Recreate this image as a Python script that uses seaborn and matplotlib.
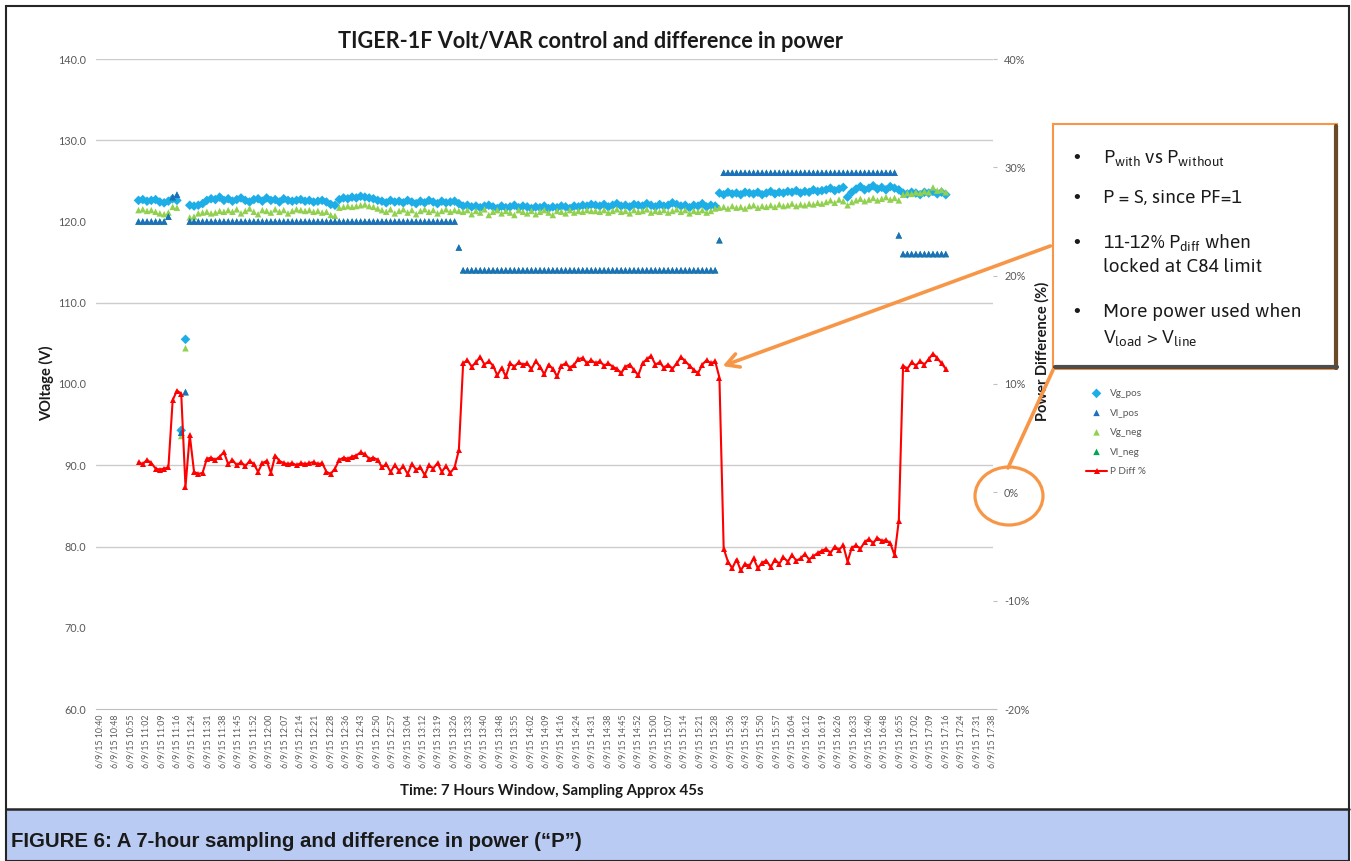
import numpy as np
import pandas as pd
import matplotlib
matplotlib.use("Agg")
import matplotlib.pyplot as plt
import seaborn as sns
from matplotlib import font_manager
from matplotlib.patches import Rectangle, Ellipse, FancyArrowPatch
from matplotlib.lines import Line2D

# ---------------------------------------------------------------
# DATA (one sample every ~2 min from 10:58)
# ---------------------------------------------------------------
t_start = 18      # minutes after the first axis label (10:40)
t_step = 2

p_diff = [
    2.8, 2.6, 3.0, 2.7, 2.2, 2.1, 2.2, 2.3, 8.5, 9.4, 9.1, 0.5, 5.3, 1.9, 1.7, 1.8,
    3.1, 3.2, 3.0, 3.3, 3.7,
    2.6, 3.0, 2.5, 2.8, 2.4, 2.9, 2.6, 1.9, 2.7, 2.9, 1.8, 3.4,
    2.9, 2.7, 2.6, 2.7, 2.5, 2.7, 2.6, 2.7, 2.8, 2.6, 2.7,
    1.9, 1.7, 2.2, 3.0, 3.2, 3.1, 3.3, 3.4, 3.7, 3.5, 3.1, 3.2, 3.0,
    2.3, 2.6, 1.9, 2.5, 2.0, 2.4, 1.7, 2.6, 2.1, 2.3, 1.6, 2.5, 2.2, 2.7, 1.9, 2.4, 1.8, 2.3, 3.9,
    11.9, 12.2, 11.6, 12.0, 12.5, 11.8, 12.1, 11.7, 10.8, 11.5, 10.7, 11.9, 11.6, 12.0, 11.8,
    11.9, 11.4, 12.1, 11.6, 10.9, 11.8, 11.4, 10.7, 11.7, 11.9, 11.5, 11.8, 12.3, 12.4, 11.9,
    12.2, 11.9, 12.1, 11.7, 11.9, 11.6, 11.4, 11.0, 11.6, 11.8, 11.3, 10.8, 11.9, 12.3, 12.6,
    11.8, 12.0, 11.5, 11.8, 11.4, 11.9, 12.5, 12.1, 11.7, 11.3, 11.0, 11.8, 12.2, 11.9, 12.1,
    10.6, -5.2, -6.4, -7.0, -6.2, -7.2, -6.6, -6.8, -6.1, -7.0, -6.5, -6.3, -6.9, -6.2, -6.6,
    -6.0, -6.4, -5.8, -6.3, -6.1, -5.7, -6.2, -5.9, -5.6,
    -5.4, -5.2, -5.6, -5.0, -5.3, -4.9, -6.4, -5.1, -4.9, -5.2, -4.6, -4.3, -4.7, -4.2, -4.5,
    -4.4, -4.7,
    -5.8, -2.6, 11.7, 11.4, 12.0, 11.7, 12.1, 11.8, 12.3, 12.8, 12.4, 11.9, 11.4,
]

vg_pos = [
    122.6, 122.7, 122.5, 122.6, 122.7, 122.4, 122.3, 122.5, 122.8, 122.6, 94.3, 105.5,
    122.0, 121.9, 122.0, 122.2,
    122.6, 122.8, 122.7, 123.0, 122.6, 122.8, 122.5, 122.7, 122.9, 122.6, 122.4, 122.7,
    122.8, 122.5, 122.9, 122.6, 122.7, 122.4, 122.8, 122.6, 122.5, 122.6, 122.7, 122.5,
    122.6, 122.4, 122.5, 122.6, 122.4,
    122.1, 122.0, 122.7, 122.9, 122.8, 123.0, 122.9, 123.1, 123.0, 122.9, 122.8, 122.6,
    122.5, 122.3, 122.6, 122.4, 122.5, 122.3, 122.6, 122.4, 122.2, 122.5, 122.3, 122.6,
    122.4, 122.2, 122.5, 122.3, 122.4, 122.5, 122.2,
    121.9, 122.0, 121.8, 121.9, 121.7, 121.9, 122.0, 121.8, 121.6, 121.9, 121.7, 121.8,
    122.0, 121.7, 121.9, 121.8, 121.6, 121.8, 121.7, 121.9, 121.6, 121.8, 121.7, 121.9,
    121.8, 121.6, 121.9, 121.8, 122.0, 121.9, 122.1,
    122.0, 121.9, 122.1, 121.8, 122.0, 122.2, 121.9, 122.0, 121.8, 122.1, 122.0, 121.9,
    122.2, 122.0, 121.8, 122.1, 121.9, 122.0, 122.3, 122.1, 121.9, 122.0, 121.7, 122.0,
    121.9, 122.2, 121.8, 122.0, 121.9,
    123.5, 123.3, 123.6, 123.4, 123.5, 123.3, 123.6, 123.5, 123.4, 123.6, 123.3, 123.5,
    123.7, 123.4, 123.6, 123.5, 123.7, 123.6, 123.8, 123.5, 123.7, 123.6, 123.9, 123.7,
    123.8,
    123.9, 124.1, 123.8, 124.0, 124.2, 123.0, 123.6, 124.0, 124.3, 123.9, 124.1, 124.4,
    124.0, 124.2, 123.9, 124.3, 124.1, 123.9,
    123.5, 123.4, 123.6, 123.5, 123.3, 123.6, 123.5, 123.7, 123.4, 123.6, 123.3,
]

vg_neg = [
    121.4, 121.5, 121.3, 121.4, 121.2, 121.0, 120.9, 121.1, 121.8, 121.7, 93.6, 104.4,
    120.5, 120.6, 121.0, 121.1,
    121.2, 121.0, 121.1, 121.3, 121.2,
    121.4, 121.2, 121.5, 121.0, 121.3, 121.6, 121.2, 120.9, 121.4, 121.3, 121.1, 121.5,
    121.2, 121.4, 121.0, 121.3, 121.5, 121.4, 121.3, 121.4, 121.2, 121.3, 121.1, 121.2,
    120.8, 120.7, 121.7, 121.8, 121.9, 121.8, 121.9, 122.0, 122.1, 121.9, 121.8, 121.6,
    121.4, 121.2, 121.5, 121.0, 121.3, 121.5, 121.1, 121.4, 120.9, 121.3, 121.5, 121.2,
    121.4, 121.0, 121.3, 121.5, 121.2, 121.4, 121.3,
    121.2, 121.4, 120.9, 121.3, 121.1, 121.5, 120.8, 121.2, 121.4, 121.0, 121.3, 121.1,
    120.8, 121.4, 121.2, 121.0, 121.3, 120.9, 121.2, 121.4, 121.1, 120.8, 121.3, 121.2,
    121.0, 121.4, 121.1, 121.3, 121.2, 121.4, 121.3,
    121.3, 121.2, 121.4, 121.1, 121.3, 121.5, 121.2, 121.3, 121.0, 121.4, 121.2, 121.3,
    121.5, 121.1, 121.3, 121.2, 121.4, 121.1, 121.3, 121.5, 121.2, 121.4, 121.0, 121.3,
    121.2, 121.4, 121.1, 121.3, 121.6,
    121.7, 121.8, 121.6, 121.9, 121.7, 121.8, 121.6, 121.9, 122.0, 121.7, 121.9, 121.8,
    122.0, 121.8, 122.1, 121.9, 122.0, 122.2, 121.9, 122.1, 122.0, 122.2, 122.1, 122.3,
    122.2,
    122.4, 122.6, 122.3, 122.7, 122.5, 122.0, 122.4, 122.6, 122.8, 122.5, 122.7, 122.9,
    122.6, 122.8, 123.0, 122.7, 122.9, 122.6,
    123.3, 123.5, 123.4, 123.6, 123.5, 123.7, 123.6, 124.2, 123.8, 123.9, 123.6,
]

# line-side voltage: regulator taps, so long flat stretches
vl_pos = [
    120.0, 120.0, 120.0, 120.0, 120.0, 120.0, 120.0, 120.6, 123.0, 123.3, 94.0, 99.0,
    120.0, 120.0, 120.0, 120.0, 120.0, 120.0, 120.0, 120.0, 120.0,
    120.0, 120.0, 120.0, 120.0, 120.0, 120.0, 120.0, 120.0, 120.0,
    120.0, 120.0, 120.0, 120.0, 120.0, 120.0, 120.0, 120.0, 120.0,
    120.0, 120.0, 120.0, 120.0, 120.0, 120.0, 120.0, 120.0, 120.0,
    120.0, 120.0, 120.0, 120.0, 120.0, 120.0, 120.0, 120.0, 120.0,
    120.0, 120.0, 120.0, 120.0, 120.0, 120.0, 120.0, 120.0, 120.0,
    120.0, 120.0, 120.0, 120.0, 120.0, 120.0, 120.0, 120.0, 120.0,
    116.8,
    114.0, 114.0, 114.0, 114.0, 114.0, 114.0, 114.0, 114.0, 114.0, 114.0,
    114.0, 114.0, 114.0, 114.0, 114.0, 114.0, 114.0, 114.0, 114.0, 114.0,
    114.0, 114.0, 114.0, 114.0, 114.0, 114.0, 114.0, 114.0, 114.0, 114.0,
    114.0, 114.0, 114.0, 114.0, 114.0, 114.0, 114.0, 114.0, 114.0, 114.0,
    114.0, 114.0, 114.0, 114.0, 114.0, 114.0, 114.0, 114.0, 114.0, 114.0,
    114.0, 114.0, 114.0, 114.0, 114.0, 114.0, 114.0, 114.0, 114.0, 114.0,
    117.7,
    126.0, 126.0, 126.0, 126.0, 126.0, 126.0, 126.0, 126.0, 126.0, 126.0,
    126.0, 126.0, 126.0, 126.0, 126.0, 126.0, 126.0, 126.0, 126.0, 126.0,
    126.0, 126.0, 126.0, 126.0, 126.0, 126.0, 126.0, 126.0, 126.0, 126.0,
    126.0, 126.0, 126.0, 126.0, 126.0, 126.0, 126.0, 126.0, 126.0, 126.0,
    126.0,
    118.3,
    116.0, 116.0, 116.0, 116.0, 116.0, 116.0, 116.0, 116.0, 116.0, 116.0, 116.0,
]
vl_neg = list(vl_pos)   # sits right under Vl_pos in the picture

tick_times = [
    "10:40", "10:48", "10:55", "11:02", "11:09", "11:16", "11:24", "11:31", "11:38",
    "11:45", "11:52", "12:00", "12:07", "12:14", "12:21", "12:28", "12:36", "12:43",
    "12:50", "12:57", "13:04", "13:12", "13:19", "13:26", "13:33", "13:40", "13:48",
    "13:55", "14:02", "14:09", "14:16", "14:24", "14:31", "14:38", "14:45", "14:52",
    "15:00", "15:07", "15:14", "15:21", "15:28", "15:36", "15:43", "15:50", "15:57",
    "16:04", "16:12", "16:19", "16:26", "16:33", "16:40", "16:48", "16:55", "17:02",
    "17:09", "17:16", "17:24", "17:31", "17:38",
]
tick_step = 7.2          # minutes between category labels
volt_ticks = [60, 70, 80, 90, 100, 110, 120, 130, 140]
pct_ticks = [-20, -10, 0, 10, 20, 30, 40]
grid_levels = [140, 130, 110, 90, 80]   # the ones still visible in the screenshot

n = len(p_diff)
assert len(vg_pos) == n and len(vg_neg) == n and len(vl_pos) == n, (len(vg_pos), len(vg_neg), len(vl_pos), n)

df = pd.DataFrame({
    "minute": t_start + t_step * np.arange(n),
    "Vg_pos": vg_pos, "Vl_pos": vl_pos, "Vg_neg": vg_neg, "Vl_neg": vl_neg,
    "P Diff %": p_diff,
})

# ---------------------------------------------------------------
# STYLE
# ---------------------------------------------------------------
sns.set_style("white")
installed = {f.name for f in font_manager.fontManager.ttflist}
if "Asap" in installed:
    BOX_FONT, BOX_SIZE = "Asap", 13.8
else:
    BOX_FONT, BOX_SIZE = "Liberation Sans", 13.4
plt.rcParams["font.family"] = ["Lato", "DejaVu Sans"]
plt.rcParams["mathtext.fontset"] = "custom"
plt.rcParams["mathtext.rm"] = BOX_FONT
plt.rcParams["mathtext.it"] = BOX_FONT

W, H = 1351, 861
def fx(px):
    return px / W
def fy(py):
    return 1 - py / H

GRAY = "#595959"
ORANGE = "#f79646"

fig = plt.figure(figsize=(W / 100, H / 100), dpi=100)
ax = fig.add_axes([fx(96), fy(709), fx(993) - fx(96), fy(59) - fy(709)])
ax2 = ax.twinx()

# ---------------------------------------------------------------
# MARKS
# ---------------------------------------------------------------
sns.scatterplot(data=df, x="minute", y="Vg_pos", ax=ax, marker="D", s=24,
                color="#1daee8", edgecolor="none", label="Vg_pos", zorder=3)
sns.scatterplot(data=df, x="minute", y="Vg_neg", ax=ax, marker="^", s=22,
                color="#92d050", edgecolor="none", label="Vg_neg", zorder=3)
sns.scatterplot(data=df, x="minute", y="Vl_neg", ax=ax, marker="^", s=22,
                color="#00a651", edgecolor="none", label="Vl_neg", zorder=3)
sns.scatterplot(data=df, x="minute", y="Vl_pos", ax=ax, marker="^", s=22,
                color="#1f6fbf", edgecolor="none", label="Vl_pos", zorder=4)
sns.lineplot(data=df, x="minute", y="P Diff %", ax=ax2, color="#ff0000", lw=1.5,
             marker="^", markersize=3.8, markeredgewidth=0, label="P Diff %")

for a in (ax, ax2):
    if a.get_legend() is not None:
        a.get_legend().remove()

for lvl in grid_levels:
    ax.axhline(lvl, color="#cccccc", lw=1.0, zorder=0)

ax.set_xlim(-1.9, 418.1)
ax.set_ylim(60, 140)
ax2.set_ylim(-20, 40)

ax.set_yticks(volt_ticks)
ax.set_yticklabels([f"{v:.1f}" for v in volt_ticks])
ax2.set_yticks(pct_ticks)
ax2.set_yticklabels([f"{v}%" for v in pct_ticks])
ax.set_xticks(np.arange(len(tick_times)) * tick_step)
ax.set_xticklabels([f"6/9/15 {t}" for t in tick_times], rotation=90)

ax.tick_params(axis="y", length=0, pad=7, labelsize=7.8, labelcolor=GRAY)
ax.tick_params(axis="x", length=2, width=0.8, color="#bfbfbf", pad=2,
               labelsize=6.3, labelcolor=GRAY)
ax2.tick_params(axis="y", length=3, width=0.8, color="#bfbfbf", pad=5,
                labelsize=7.8, labelcolor=GRAY)
ax.set_xlabel("")
ax.set_ylabel("")
ax2.set_ylabel("")
for name, sp in ax.spines.items():
    sp.set_visible(name == "bottom")
ax.spines["bottom"].set_color("#bfbfbf")
for sp in ax2.spines.values():
    sp.set_visible(False)

# ---------------------------------------------------------------
# TEXT
# ---------------------------------------------------------------
fig.text(fx(590), fy(48), "TIGER-1F Volt/VAR control and difference in power",
         ha="center", va="baseline", fontsize=15.6, weight="bold", color="#1a1a1a")
fig.text(fx(552), fy(791), "Time: 7 Hours Window, Sampling Approx 45s",
         ha="center", va="center", fontsize=10.8, weight="bold", color="#1a1a1a")
fig.text(fx(47), fy(383), "VOltage (V)", rotation=90, ha="center", va="center",
         fontsize=10.5, weight="bold", color="#1a1a1a")
fig.text(fx(1042), fy(351), "Power Difference (%)", rotation=90, ha="center",
         va="center", fontsize=10.5, weight="bold", color="#1a1a1a")

# legend
handles, labels = ax.get_legend_handles_labels()
h2, l2 = ax2.get_legend_handles_labels()
lookup = dict(zip(labels + l2, handles + h2))
order = ["Vg_pos", "Vl_pos", "Vg_neg", "Vl_neg", "P Diff %"]
fig.legend([lookup[k] for k in order], order, loc="upper left",
           bbox_to_anchor=(fx(1086), fy(389)), frameon=False, fontsize=7.2,
           labelspacing=1.05, handlelength=2.1, handletextpad=0.3,
           borderpad=0, borderaxespad=0, labelcolor=GRAY)

# outer frame + caption band
fig.add_artist(Rectangle((fx(5), 0), fx(1344), fy(809), transform=fig.transFigure,
                         facecolor="#b9cbf2", edgecolor="none", zorder=0))
fig.add_artist(Rectangle((fx(6), 0), fx(1343), fy(6), transform=fig.transFigure,
                         facecolor="none", edgecolor="#262626", lw=1.5, zorder=5))
fig.add_artist(Line2D([fx(6), fx(1349)], [fy(809), fy(809)], transform=fig.transFigure,
                      color="#262626", lw=1.8, zorder=5))
fig.text(fx(11), fy(847), "FIGURE 6: A 7-hour sampling and difference in power (\u201cP\u201d)",
         ha="left", va="baseline", fontsize=14.7, weight="bold", family="Liberation Sans",
         color="#1a1a1a")

# callout box with shading
fig.add_artist(Rectangle((fx(1053), fy(369)), fx(1337) - fx(1053), fy(124) - fy(369),
                         transform=fig.transFigure, facecolor="white",
                         edgecolor=ORANGE, lw=1.5, zorder=6))
fig.add_artist(Line2D([fx(1335.5), fx(1335.5)], [fy(126), fy(368)], transform=fig.transFigure,
                      color="#6b4a2a", lw=3, zorder=7))
fig.add_artist(Line2D([fx(1055), fx(1337)], [fy(367), fy(367)], transform=fig.transFigure,
                      color="#4d4d4d", lw=3, zorder=7))

bullets = [
    (163, r"P$_{\mathrm{with}}$ vs P$_{\mathrm{without}}$", True),
    (203, "P = S, since PF=1", True),
    (248, r"11-12% P$_{\mathrm{diff}}$ when", True),
    (272, "locked at C84 limit", False),
    (317, "More power used when", True),
    (343, r"V$_{\mathrm{load}}$ > V$_{\mathrm{line}}$", False),
]
for py, txt, dot in bullets:
    if dot:
        fig.text(fx(1077), fy(py), "\u2022", ha="center", va="baseline", fontsize=14,
                 family="Liberation Sans", color="#1a1a1a", zorder=8)
    fig.text(fx(1103), fy(py), txt, ha="left", va="baseline", fontsize=BOX_SIZE,
             family=BOX_FONT, color="#1a1a1a", zorder=8)

# orange arrow and circle
fig.add_artist(FancyArrowPatch((fx(1053), fy(245)), (fx(720), fy(367)),
                               transform=fig.transFigure, color=ORANGE, lw=2.6,
                               arrowstyle="->,head_length=9,head_width=5", zorder=7))
fig.add_artist(Line2D([fx(1053), fx(1008)], [fy(370), fy(468)], transform=fig.transFigure,
                      color=ORANGE, lw=2.6, zorder=7))
fig.add_artist(Ellipse((fx(1009), fy(496)), fx(68), 58 / H, transform=fig.transFigure,
                       facecolor="none", edgecolor=ORANGE, lw=2.3, zorder=7))

fig.savefig("out.png", dpi=100)
